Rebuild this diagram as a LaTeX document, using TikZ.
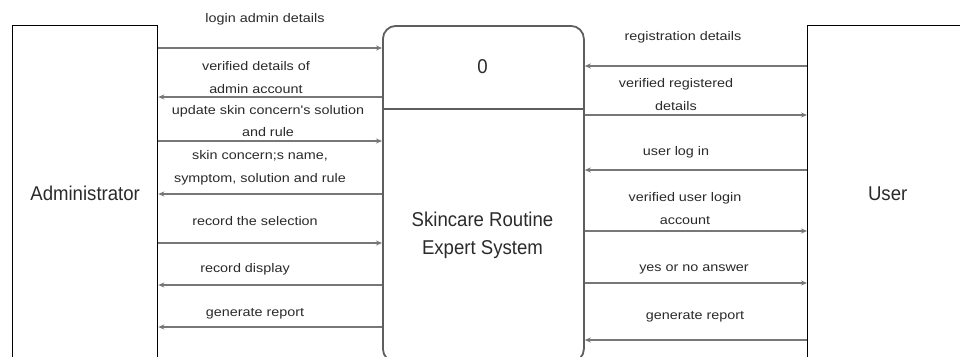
\documentclass[tikz,border=0pt]{standalone}
\usepackage{fontspec}
\setmainfont{Liberation Sans}
\newfontfamily\lblfont{Liberation Sans}[FakeStretch=1.15]
\newfontfamily\bigfont{Liberation Sans}[FakeStretch=0.93]
\usetikzlibrary{arrows.meta}
\definecolor{ink}{HTML}{2B2B2B}
\definecolor{flowc}{HTML}{777777}
\definecolor{procc}{HTML}{5E5E5E}
\begin{document}
\begin{tikzpicture}[x=1pt,y=-1pt,
 ent/.style={draw=black, line width=1.3pt, minimum width=145pt, minimum height=336pt, inner sep=0pt, font=\bigfont\fontsize{20}{22}\selectfont, text=ink},
 proc/.style={draw=procc, line width=1.8pt, rounded corners=13pt, minimum width=201pt, minimum height=336pt, inner sep=0pt},
 big/.style={font=\bigfont\fontsize{20}{28}\selectfont, text=ink, align=center, inner sep=0pt},
 flow/.style={draw=flowc, line width=1.8pt, -{Stealth[length=6pt,width=5pt]}},
 lbl/.style={font=\lblfont\fontsize{12.5}{22.5}\selectfont, text=ink, inner sep=0pt, align=center}
]
\useasboundingbox (0,0) rectangle (960,356);
\fill[white] (0,0) rectangle (960,356);
\clip (0,0) rectangle (960,356);

\node[ent, anchor=north west] (admin) at (12,25) {Administrator};
\node[ent, anchor=north west, minimum width=160pt] (user) at (807,25) {User};
\node[proc, anchor=north west] (sys) at (382,25) {};
\node[big] (num) at (482.5,67) {0};
\node[big] (title) at (482.5,235) {Skincare Routine\\Expert System};
\draw[draw=procc, line width=1.8pt] (sys.west |- 0,109) -- (sys.east |- 0,109);

% left flows
\draw[flow] (admin.east |- 0,48) -- (sys.west |- 0,48);
\draw[flow] (sys.west |- 0,97) -- (admin.east |- 0,97);
\draw[flow] (admin.east |- 0,141) -- (sys.west |- 0,141);
\draw[flow] (sys.west |- 0,194) -- (admin.east |- 0,194);
\draw[flow] (admin.east |- 0,243) -- (sys.west |- 0,243);
\draw[flow] (sys.west |- 0,285) -- (admin.east |- 0,285);
\draw[flow] (sys.west |- 0,327) -- (admin.east |- 0,327);

% right flows
\draw[flow] (user.west |- 0,66) -- (sys.east |- 0,66);
\draw[flow] (sys.east |- 0,115) -- (user.west |- 0,115);
\draw[flow] (user.west |- 0,170) -- (sys.east |- 0,170);
\draw[flow] (sys.east |- 0,231) -- (user.west |- 0,231);
\draw[flow] (sys.east |- 0,283) -- (user.west |- 0,283);
\draw[flow] (user.west |- 0,340) -- (sys.east |- 0,340);

% left labels
\node[lbl] (l1) at (265,19) {login admin details};
\node[lbl] (l2) at (256,77.5) {verified details of\\admin account};
\node[lbl] (l3) at (268,121) {update skin concern's solution\\and rule};
\node[lbl] (l4) at (260,168) {skin concern;s name,\\symptom, solution and rule};
\node[lbl] (l5) at (255,221) {record the selection};
\node[lbl] (l6) at (245,269) {record display};
\node[lbl] (l7) at (255,314) {generate report};

% right labels
\node[lbl] (r1) at (683,37) {registration details};
\node[lbl] (r2) at (676,94.5) {verified registered\\details};
\node[lbl] (r3) at (676,152) {user log in};
\node[lbl] (r4) at (685,208.5) {verified user login\\account};
\node[lbl] (r5) at (694,269) {yes or no answer};
\node[lbl] (r6) at (695,317) {generate report};
\end{tikzpicture}
\end{document}
